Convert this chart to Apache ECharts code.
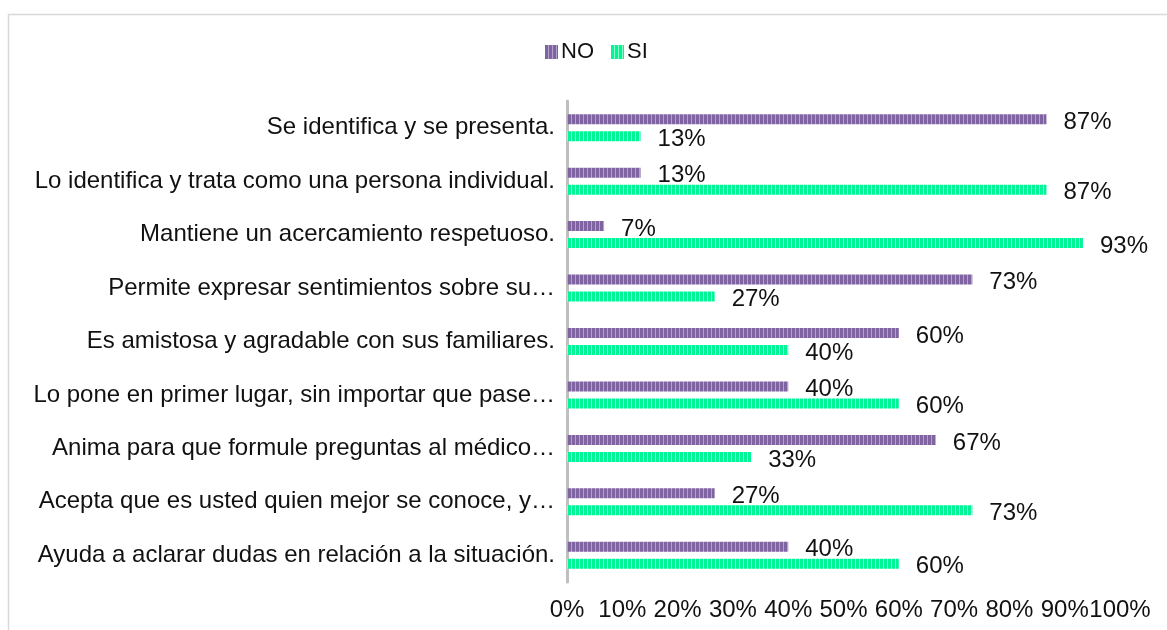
<!DOCTYPE html>
<html>
<head>
<meta charset="utf-8">
<script src="https://cdn.jsdelivr.net/npm/echarts@6/dist/echarts.min.js"></script>
<style>html,body{margin:0;padding:0;background:#fff;}#c{width:1167px;height:630px;}</style>
</head>
<body>
<div id="c"></div>
<script>
var categories = [
  "Se identifica y se presenta.",
  "Lo identifica y trata como una persona individual.",
  "Mantiene un acercamiento respetuoso.",
  "Permite expresar sentimientos sobre su…",
  "Es amistosa y agradable con sus familiares.",
  "Lo pone en primer lugar, sin importar que pase…",
  "Anima para que formule preguntas al médico…",
  "Acepta que es usted quien mejor se conoce, y…",
  "Ayuda a aclarar dudas en relación a la situación."
];
var noValues = [86.7, 13.3, 6.7, 73.3, 60, 40, 66.7, 26.7, 40];
var siValues = [13.3, 86.7, 93.3, 26.7, 40, 60, 33.3, 73.3, 60];
var tickLabels = ["0%","10%","20%","30%","40%","50%","60%","70%","80%","90%","100%"];

function stripe(dark, light) {
  var cv = document.createElement('canvas');
  cv.width = 4; cv.height = 4;
  var ctx = cv.getContext('2d');
  ctx.fillStyle = dark; ctx.fillRect(0, 0, 3, 4);
  ctx.fillStyle = light; ctx.fillRect(3, 0, 1, 4);
  return {image: cv, repeat: 'repeat'};
}
var purple = stripe('#8064a2', '#b3a2cc');
var green = stripe('#00f596', '#8dffcb');

var font = '"Liberation Sans", Arial, sans-serif';
var txt = '#111111';
var chart = echarts.init(document.getElementById('c'));
var labelCfg = {
  show: true, position: 'right', distance: 17, offset: [0, 3],
  fontSize: 24, fontFamily: font, color: txt,
  formatter: function (p) { return Math.round(p.value) + '%'; }
};
chart.setOption({
  animation: false,
  graphic: [{
    type: 'rect', shape: {x: 8.5, y: 14.5, width: 1300, height: 800},
    style: {fill: 'none', stroke: '#d9d9d9', lineWidth: 1.5}, silent: true
  }],
  legend: {
    left: 540, top: 36, itemWidth: 13, itemHeight: 14, itemGap: 17,
    icon: 'rect',
    textStyle: {fontSize: 22, fontFamily: font, color: txt, padding: [0, 0, 0, -2]},
    data: ['NO', 'SI']
  },
  grid: {left: 567, right: 47, top: 101, bottom: 48, containLabel: false},
  xAxis: {
    type: 'value', min: 0, max: 100, interval: 10,
    axisLine: {show: false}, axisTick: {show: false}, splitLine: {show: false},
    axisLabel: {
      margin: 16, fontSize: 24, fontFamily: font, color: txt,
      formatter: function (v) { return tickLabels[Math.round(v / 10)]; }
    }
  },
  yAxis: {
    type: 'category', inverse: true, data: categories,
    axisLine: {show: true, lineStyle: {color: '#bfbfbf', width: 3}},
    axisTick: {show: false},
    axisLabel: {margin: 12, fontSize: 24, fontFamily: font, color: txt}
  },
  series: [
    {name: 'NO', type: 'bar', data: noValues, barWidth: 10, barGap: '70%',
     itemStyle: {color: purple}, label: labelCfg},
    {name: 'SI', type: 'bar', data: siValues, barWidth: 10, barGap: '70%',
     itemStyle: {color: green}, label: labelCfg}
  ]
});
</script>
</body>
</html>
